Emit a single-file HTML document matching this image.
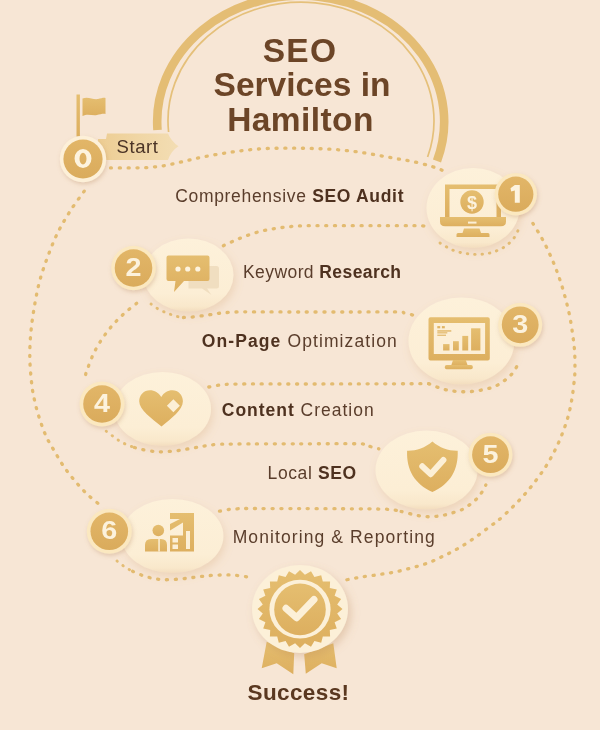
<!DOCTYPE html>
<html><head><meta charset="utf-8">
<style>
html,body{margin:0;padding:0;width:600px;height:730px;overflow:hidden;background:#F7E6D5;}
svg{display:block;}
text{font-family:"Liberation Sans",sans-serif;opacity:0.995;}
.t{font-size:17.5px;fill:#5A3D2B;}
.b{font-weight:bold;fill:#4E311F;}
.num{font-weight:bold;font-size:25px;fill:#FDF3DE;text-anchor:middle;}
.dot{fill:none;stroke:#E3BB70;stroke-width:3.3;stroke-linecap:round;stroke-dasharray:1.1 7.7;}
.halo{fill:none;stroke:#E4BD74;stroke-width:2.9;stroke-linecap:round;stroke-dasharray:0.5 6.9;}
.g{fill:url(#gg);}
.el{fill:url(#elg);}
.ring{fill:#FBE8C0;}
.bd{fill:url(#gb);}
</style></head>
<body>
<svg width="600" height="730" viewBox="0 0 600 730">
<defs>
  <filter id="sh" x="-40%" y="-40%" width="180%" height="190%">
    <feDropShadow dx="2" dy="4" stdDeviation="4.5" flood-color="#CF9A5E" flood-opacity="0.24"/>
  </filter>
  <filter id="shb" x="-40%" y="-40%" width="180%" height="190%">
    <feDropShadow dx="3" dy="4" stdDeviation="4" flood-color="#B98352" flood-opacity="0.3"/>
  </filter>
  <filter id="shs" x="-40%" y="-40%" width="180%" height="190%">
    <feDropShadow dx="1" dy="2" stdDeviation="2" flood-color="#B07E50" flood-opacity="0.3"/>
  </filter>
  <radialGradient id="bg" cx="50%" cy="45%" r="70%">
    <stop offset="0" stop-color="#F7E7D6"/>
    <stop offset="1" stop-color="#F4E1D0"/>
  </radialGradient>
<linearGradient id="tag" x1="0" y1="0" x2="1" y2="0"><stop offset="0" stop-color="#EDCD93"/><stop offset="0.5" stop-color="#F0D6A5"/><stop offset="1" stop-color="#F3DDB3"/></linearGradient>
<linearGradient id="elg" x1="0" y1="0" x2="0" y2="1"><stop offset="0" stop-color="#FDF1DA"/><stop offset="0.75" stop-color="#FCEED5"/><stop offset="0.93" stop-color="#F9E8CB"/><stop offset="1" stop-color="#F3DDBE"/></linearGradient>
<linearGradient id="gg" x1="0" y1="0" x2="0" y2="1"><stop offset="0" stop-color="#E5BE70"/><stop offset="1" stop-color="#DDAF5F"/></linearGradient>
<linearGradient id="gb" x1="0" y1="0" x2="0" y2="1"><stop offset="0" stop-color="#E2B668"/><stop offset="1" stop-color="#DAAB5C"/></linearGradient>
</defs>
<rect width="600" height="730" fill="#F7E6D5"/>

<!-- title arc -->
<path d="M157.5,130 A143.5,126 0 1 1 437,161" fill="none" stroke="#E4BD74" stroke-width="8.6"/>
<path d="M168.6,132 A133,118.5 0 1 1 427.6,157" fill="none" stroke="#E5C07A" stroke-width="1.7"/>

<!-- title text -->
<g font-weight="bold" font-size="33.5" fill="#6C4527" text-anchor="middle">
  <text x="300" y="61.5" letter-spacing="1.2">SEO</text>
  <text x="302" y="96">Services in</text>
  <text x="300.5" y="130.5" letter-spacing="0.4">Hamilton</text>
</g>

<!-- dotted paths -->
<g>
  <path class="dot" d="M110.5,167.9 C113.5,167.9 122.5,168.0 128.5,167.9 C134.5,167.8 140.7,167.9 146.5,167.6 C152.3,167.2 157.9,166.7 163.6,165.8 C169.2,164.9 174.9,163.4 180.4,162.2 C185.9,160.9 191.1,159.5 196.6,158.3 C202.1,157.1 207.8,156.0 213.4,155.0 C219.0,154.0 224.5,153.1 229.9,152.3 C235.3,151.5 240.6,150.8 246.1,150.2 C251.6,149.6 257.3,149.0 262.9,148.7 C268.5,148.4 274.0,148.3 279.6,148.2 C285.2,148.1 290.8,148.1 296.4,148.2 C301.9,148.2 307.4,148.3 312.9,148.5 C318.4,148.7 323.8,148.8 329.4,149.1 C335.0,149.4 340.9,150.0 346.5,150.6 C352.1,151.2 357.4,151.8 363.0,152.7 C368.6,153.5 374.8,154.7 380.4,155.7 C386.0,156.7 391.1,157.7 396.6,158.7 C402.1,159.7 407.5,160.4 413.4,161.7 C419.3,163.0 426.9,164.9 432.0,166.5 C437.1,168.1 442.0,170.2 444.0,171.0"/>
  <path class="dot" d="M223.4,245.7 C225.9,244.5 233.3,241.0 238.7,238.8 C244.1,236.6 250.2,234.3 256.0,232.6 C261.8,230.9 267.3,229.8 273.2,228.8 C279.1,227.8 285.4,227.0 291.3,226.5 C297.2,226.0 300.8,225.8 308.9,225.7 C317.0,225.6 328.1,225.7 340.0,225.7 C351.9,225.7 366.9,225.7 380.0,225.7 C393.1,225.7 411.6,225.6 418.9,225.7 C426.2,225.8 423.1,226.2 424.0,226.3"/>
  <path class="dot" d="M183.5,317.5 C184.8,317.4 187.2,317.6 191.2,317.2 C195.1,316.8 202.0,315.8 207.2,315.1 C212.4,314.4 217.4,313.4 222.6,312.9 C227.8,312.4 233.2,312.1 238.6,311.9 C244.0,311.7 244.6,311.9 254.8,311.9 C265.0,311.9 284.1,312.0 300.0,312.0 C315.9,312.0 333.8,312.0 350.0,312.0 C366.2,312.0 388.4,311.8 397.5,312.0 C406.6,312.2 402.1,312.6 404.3,313.0 C406.5,313.4 408.5,313.8 410.5,314.3 C412.5,314.9 415.3,316.0 416.3,316.3"/>
  <path class="dot" d="M136.7,303.3 C134.5,305.1 127.8,310.1 123.8,313.8 C119.8,317.5 116.1,321.2 112.5,325.3 C108.9,329.4 105.4,333.9 102.2,338.7 C99.0,343.5 95.8,348.9 93.3,354.2 C90.8,359.5 88.5,366.2 87.0,370.3 C85.5,374.4 84.9,377.3 84.5,378.7"/>
  <path class="dot" d="M208.8,387.0 C210.1,386.8 214.4,385.9 217.0,385.5 C219.6,385.1 220.7,384.8 224.5,384.5 C228.3,384.2 227.4,384.1 240.0,384.0 C252.6,383.9 276.7,384.0 300.0,384.0 C323.3,384.0 358.6,383.9 380.0,383.8 C401.4,383.8 420.6,383.7 428.7,383.7"/>
  <path class="dot" d="M428.7,383.7 C430.0,384.2 434.0,385.9 436.6,386.9 C439.2,387.8 441.9,388.7 444.5,389.4 C447.1,390.1 449.8,390.6 452.4,391.0 C455.0,391.4 457.7,391.6 460.3,391.7 C462.9,391.8 465.6,391.8 468.2,391.7 C470.8,391.6 473.5,391.4 476.2,391.0 C478.9,390.6 481.5,390.0 484.1,389.4 C486.7,388.8 489.6,388.3 492.0,387.5 C494.4,386.7 496.3,385.8 498.3,384.7 C500.3,383.6 502.1,382.3 504.0,380.9 C505.9,379.5 507.7,378.1 509.4,376.5 C511.1,374.9 512.7,373.3 514.2,371.1 C515.7,368.9 517.6,364.5 518.3,363.2"/>
  <path class="dot" d="M134.5,447.5 C135.8,447.8 138.2,448.8 142.0,449.5 C145.8,450.2 152.1,451.5 157.5,451.8 C162.9,452.0 169.0,451.5 174.5,451.0 C180.0,450.5 185.3,449.4 190.5,448.5 C195.7,447.6 200.6,446.5 205.5,445.8 C210.4,445.0 214.9,444.5 220.0,444.2 C225.1,444.0 222.9,444.1 236.2,444.0 C249.6,443.9 279.8,443.8 300.0,443.8 C320.2,443.8 346.8,443.6 357.5,443.8 C368.2,443.9 362.0,444.5 364.2,445.0 C366.5,445.5 368.8,446.1 371.2,446.8 C373.7,447.4 377.5,448.4 378.8,448.8"/>
  <path class="dot" d="M219.5,511.2 C221.0,511.0 225.8,509.9 228.8,509.5 C231.8,509.1 234.6,508.9 237.5,508.8 C240.4,508.6 235.8,508.5 246.2,508.5 C256.7,508.5 282.3,508.6 300.0,508.6 C317.7,508.6 340.9,508.7 352.5,508.8 C364.1,508.8 365.3,508.7 369.5,508.8 C373.7,508.8 374.7,508.9 377.5,509.0 C380.3,509.1 383.4,509.1 386.2,509.2 C389.1,509.4 392.0,509.6 394.5,510.0 C397.0,510.4 400.1,511.2 401.2,511.5"/>
  <path class="dot" d="M401.2,511.5 C402.4,511.8 405.7,512.7 408.0,513.2 C410.3,513.8 412.6,514.5 415.0,515.0 C417.4,515.5 420.0,516.0 422.5,516.2 C425.0,516.5 427.5,516.8 430.0,516.8 C432.5,516.8 435.1,516.5 437.5,516.2 C439.9,516.0 442.1,515.5 444.5,515.0 C446.9,514.5 449.4,513.8 452.0,513.0 C454.6,512.2 457.5,511.5 460.0,510.5 C462.5,509.5 464.7,508.1 466.8,506.8 C468.8,505.4 470.7,504.0 472.5,502.5 C474.3,501.0 475.9,499.8 477.5,498.0 C479.1,496.2 480.6,494.2 482.0,492.0 C483.4,489.8 485.1,486.2 485.8,485.0"/>
  <path class="dot" d="M132.6,571.3 C134.9,572.2 141.3,575.3 146.2,576.7 C151.1,578.1 156.2,579.2 161.8,579.6 C167.4,580.0 174.1,579.4 179.9,579.0 C185.8,578.6 191.3,577.6 196.9,577.0 C202.5,576.4 207.7,575.6 213.3,575.3 C218.9,575.0 224.9,574.8 230.3,575.0 C235.7,575.2 242.1,576.1 245.9,576.7 C249.7,577.3 251.8,578.1 253.0,578.4"/>
  <path class="dot" d="M84.2,191.2 C81.8,194.6 74.2,204.6 69.8,211.6 C65.4,218.6 61.2,225.6 57.6,232.9 C54.0,240.2 51.0,247.9 48.1,255.6 C45.2,263.3 42.4,271.2 40.2,279.1 C38.0,287.0 36.5,294.4 35.0,302.9 C33.5,311.4 32.0,321.0 31.1,330.0 C30.2,339.0 29.7,348.0 29.8,357.0 C29.9,366.0 30.9,376.3 31.7,383.8 C32.5,391.3 33.5,395.9 34.9,401.8 C36.2,407.8 37.9,413.7 39.8,419.5 C41.7,425.3 43.8,431.3 46.3,436.7 C48.8,442.1 52.0,447.0 55.0,452.1 C58.0,457.2 60.9,462.4 64.3,467.3 C67.7,472.2 71.4,476.8 75.3,481.3 C79.2,485.9 83.3,490.5 87.6,494.6 C91.9,498.7 98.7,503.9 100.9,505.7"/>
  <path class="dot" d="M532.9,223.4 C534.3,225.8 538.8,232.8 541.5,237.6 C544.2,242.4 546.6,247.2 548.9,252.2 C551.2,257.2 553.5,262.4 555.5,267.6 C557.5,272.8 559.3,277.9 561.1,283.4 C562.9,288.9 564.6,295.0 566.1,300.8 C567.6,306.6 569.0,312.3 570.1,318.2 C571.2,324.1 572.1,330.4 572.9,336.2 C573.7,342.0 574.4,347.3 574.7,353.1 C575.0,358.9 575.0,366.3 574.9,370.8 C574.8,375.3 574.8,375.5 574.3,380.1 C573.8,384.7 573.0,392.2 572.0,398.3 C571.0,404.4 569.7,410.9 568.0,416.9 C566.3,422.9 564.2,428.7 562.0,434.4 C559.8,440.1 557.2,445.8 554.5,451.1 C551.8,456.4 549.0,461.4 545.9,466.3 C542.8,471.2 539.5,475.7 535.9,480.5 C532.3,485.3 528.2,490.4 524.2,494.9 C520.2,499.4 516.2,503.4 511.9,507.7 C507.6,512.0 501.7,517.5 498.2,520.5 C494.7,523.5 494.8,522.9 490.9,525.7 C487.0,528.6 480.2,534.0 475.0,537.6 C469.8,541.2 464.8,544.5 459.7,547.5 C454.6,550.5 449.8,552.9 444.7,555.4 C439.6,557.9 434.5,560.5 429.2,562.5 C423.9,564.5 418.3,566.1 412.7,567.6 C407.1,569.1 401.4,570.6 395.7,571.8 C389.9,573.0 384.1,573.8 378.2,574.7 C372.3,575.6 365.7,576.3 360.3,577.2 C354.9,578.1 348.1,579.5 345.6,580.0"/>
</g>
<g>
  <path class="halo" d="M151.0,304.0 C152.0,304.7 154.9,307.1 156.9,308.3 C158.9,309.5 161.0,310.5 163.0,311.4 C165.0,312.3 166.8,313.0 169.0,313.8 C171.2,314.6 173.8,315.7 176.2,316.3 C178.6,316.9 182.3,317.3 183.5,317.5"/>
  <path class="halo" d="M106.2,431.2 C107.1,431.9 109.6,433.8 111.2,435.0 C112.9,436.2 114.6,437.6 116.2,438.8 C117.9,439.9 119.4,441.0 121.2,442.0 C123.1,443.0 125.3,444.1 127.5,445.0 C129.7,445.9 133.3,447.1 134.5,447.5"/>
  <path class="halo" d="M117.0,561.0 C117.5,561.4 118.3,562.3 119.8,563.4 C121.3,564.5 124.0,566.4 126.1,567.7 C128.2,569.0 131.5,570.7 132.6,571.3"/>
  <path class="halo" d="M440.0,243.0 C440.8,243.5 443.3,245.0 445.0,246.0 C446.7,247.0 448.1,248.1 450.0,249.0 C451.9,249.9 454.2,250.7 456.4,251.4 C458.6,252.1 460.7,252.6 463.0,253.0 C465.3,253.4 467.7,253.8 470.0,254.0 C472.3,254.2 474.7,254.4 477.0,254.4 C479.3,254.4 481.6,254.3 484.0,254.0 C486.4,253.7 489.2,253.3 491.6,252.6 C494.0,251.9 496.2,251.0 498.4,250.0 C500.6,249.0 503.0,247.9 505.0,246.6 C507.0,245.3 508.7,243.7 510.4,242.0 C512.1,240.3 513.7,238.5 515.0,236.6 C516.3,234.7 517.5,231.6 518.0,230.6"/>
</g>

<!-- flag -->
<rect x="76.5" y="94.5" width="3.4" height="42" class="g"/>
<path d="M82.5,98.5 C88,96 93,100 98,99 C101,98.5 103.5,97.5 105.5,98 L105.5,114 C103,113.5 100,114.5 97,115 C92,116 88,113 82.5,116 Z" class="g"/>

<!-- Start tag -->
<path d="M98,139 L106,139 L107,133.5 L168,133.5 Q171,141 178.5,146.3 Q171,151 168,160 L98,160 Z" fill="url(#tag)"/>
<text x="116.5" y="152.7" class="t" style="font-size:18.5px;letter-spacing:0.6px;fill:#4B3426">Start</text>

<!-- badge 0 -->
<g filter="url(#shs)"><circle cx="83" cy="159" r="23.2" fill="#FDF0D8"/></g>
<circle cx="83" cy="159" r="19.6" class="bd"/>
<path d="M83,149.1 A8.45,9.45 0 1 1 83,168 A8.45,9.45 0 1 1 83,149.1 Z M83,152.8 A3.5,5.85 0 1 0 83,164.5 A3.5,5.85 0 1 0 83,152.8 Z" fill="#FDF3DE" fill-rule="evenodd"/>

<!-- step 1 -->
<text x="175.2" y="202" class="t" style="letter-spacing:0.68px">Comprehensive <tspan class="b">SEO Audit</tspan></text>
<g filter="url(#sh)"><ellipse cx="473" cy="208" rx="46.5" ry="40" class="el"/></g>
<g class="g">
  <path d="M445,184.5 H501 V217 H496.5 V189 H449.5 V217 H445 Z"/>
  <path d="M440,217 H506 V221.5 Q506,226.3 501,226.3 H445 Q440,226.3 440,221.5 Z"/>
  <path d="M464,228.5 H479.5 L481,233 H488 Q489.5,233 489.5,234.5 V237 H456.5 V234.5 Q456.5,233 458,233 H462.5 Z"/>
  <circle cx="472" cy="202" r="11.7"/>
</g>
<rect x="468" y="221.6" width="8.5" height="2" fill="#FCEFD6"/>
<text x="472" y="208.5" font-size="18" font-weight="bold" fill="#FDF3DE" text-anchor="middle">$</text>
<g filter="url(#shs)"><circle cx="515.8" cy="194.2" r="21.2" class="ring"/></g>
<circle cx="515.8" cy="194.2" r="17.6" class="bd"/>
<path d="M514.8,185 L519.8,185 L519.8,202.8 L514.8,202.8 L514.8,190.4 L511.2,191.4 L510.5,188.3 Z" fill="#FDF3DE"/>

<!-- step 2 -->
<g filter="url(#sh)"><ellipse cx="188.5" cy="275" rx="45" ry="36.5" class="el"/></g>
<path d="M188.5,266 H216.5 Q219,266 219,268.5 V286 Q219,288.5 216.5,288.5 H207 L211.5,295 L202,288.5 H188.5 Z" fill="#F0DEC0"/>
<path d="M168.5,255.5 H207.5 Q209.5,255.5 209.5,257.5 V279 Q209.5,281 207.5,281 H184 L174,292 L175.5,281 H168.5 Q166.5,281 166.5,279 V257.5 Q166.5,255.5 168.5,255.5 Z" class="g"/>
<circle cx="178" cy="269" r="2.6" fill="#FDF3DE"/>
<circle cx="187.7" cy="269" r="2.6" fill="#FDF3DE"/>
<circle cx="197.8" cy="269" r="2.6" fill="#FDF3DE"/>
<g filter="url(#shs)"><circle cx="133.5" cy="268" r="22.3" class="ring"/></g>
<circle cx="133.5" cy="268" r="18.8" class="bd"/>
<text transform="translate(133.5,275.8) scale(1.15,1)" class="num">2</text>
<text x="243" y="277.5" class="t" style="letter-spacing:0.42px">Keyword <tspan class="b">Research</tspan></text>

<!-- step 3 -->
<text x="201.8" y="347.3" class="t" style="letter-spacing:1.1px"><tspan class="b">On-Page</tspan> Optimization</text>
<g filter="url(#sh)"><ellipse cx="461.5" cy="341" rx="53" ry="43.5" class="el"/></g>
<g class="g">
  <path d="M430.5,317.3 H487.8 Q489.8,317.3 489.8,319.3 V358.4 Q489.8,360.4 487.8,360.4 H430.5 Q428.5,360.4 428.5,358.4 V319.3 Q428.5,317.3 430.5,317.3 Z M433.8,323.1 V354 H485.1 V323.1 Z" fill-rule="evenodd"/>
  <path d="M453,360 H465.8 L467.6,365.3 H451.3 Z"/>
  <rect x="444.8" y="365" width="28" height="4.3" rx="1.8"/>
  <rect x="443.1" y="344.1" width="6.4" height="6.4"/>
  <rect x="453" y="341.2" width="5.8" height="9.3"/>
  <rect x="462.3" y="335.9" width="5.9" height="14.6"/>
  <path d="M471.1,328.3 H480.4 V350.5 H471.1 Z"/>
  <rect x="437.3" y="326" width="2.9" height="2.3"/>
  <rect x="441.9" y="326" width="2.9" height="2.3"/>
  <rect x="437.3" y="330.2" width="14" height="1.4"/>
  <rect x="437.3" y="332.2" width="10" height="1.2"/>
  <rect x="437.3" y="334.6" width="8.7" height="1.2"/>
</g>
<g filter="url(#shs)"><circle cx="520.2" cy="324.8" r="22" class="ring"/></g>
<circle cx="520.2" cy="324.8" r="18.4" class="bd"/>
<text transform="translate(520.2,332.6) scale(1.15,1)" class="num">3</text>

<!-- step 4 -->
<g filter="url(#sh)"><ellipse cx="162.5" cy="409" rx="48.5" ry="37" class="el"/></g>
<path d="M161.3,397 C158.6,392.5 154.5,390.2 150,390.2 C143.8,390.2 139.2,395 139.2,401.2 C139.2,410 152,418.5 161.5,426.5 C171,418.5 182.9,410 182.9,401.2 C182.9,395 178.3,390.2 172.3,390.2 C167.8,390.2 163.8,392.5 161.3,397 Z" class="g"/>
<path d="M173.4,399.2 L179.9,405.7 L173.4,412.2 L166.9,405.7 Z" fill="#FCEFD6"/>
<g filter="url(#shs)"><circle cx="102" cy="404" r="22.5" class="ring"/></g>
<circle cx="102" cy="404" r="18.8" class="bd"/>
<text transform="translate(102.0,411.8) scale(1.15,1)" class="num">4</text>
<text x="221.8" y="415.5" class="t" style="letter-spacing:0.98px"><tspan class="b">Content</tspan> Creation</text>

<!-- step 5 -->
<text x="267.6" y="478.5" class="t" style="letter-spacing:0.6px">Local <tspan class="b">SEO</tspan></text>
<g filter="url(#sh)"><ellipse cx="426.5" cy="470" rx="51" ry="39.5" class="el"/></g>
<path d="M432.4,441.5 C440,448 449,451 457.7,450.7 C458.5,470 450,484 432.4,492 C414.8,484 406.3,470 407.1,450.7 C415.8,451 424.8,448 432.4,441.5 Z" class="g"/>
<path d="M422.3,466.3 L430.6,474.2 L443.4,459.9" fill="none" stroke="#FCEFD6" stroke-width="6" stroke-linecap="round" stroke-linejoin="round"/>
<g filter="url(#shs)"><circle cx="490.5" cy="454.7" r="22" class="ring"/></g>
<circle cx="490.5" cy="454.7" r="18.4" class="bd"/>
<text transform="translate(490.5,462.5) scale(1.15,1)" class="num">5</text>

<!-- step 6 -->
<g filter="url(#sh)"><ellipse cx="172.4" cy="536" rx="51" ry="37" class="el"/></g>
<g class="g">
  <circle cx="158.3" cy="530.5" r="5.8"/>
  <path d="M145,551.5 V545 Q145,539 151,539 H161 Q167,539 167,545 V551.5 Z"/>
  <path d="M170,513 H194 V551.5 H170 V535.5 H183 V522.5 L170,530.5 V524 L180,519 H170 Z"/>
</g>
<g fill="#FCEFD6">
  <rect x="158.3" y="539" width="1.5" height="12.5"/>
  <rect x="172.5" y="538" width="5.5" height="4.5"/>
  <rect x="172.5" y="544.5" width="5.5" height="4.5"/>
  <rect x="186" y="531" width="4" height="18"/>
</g>
<g filter="url(#shs)"><circle cx="109.3" cy="531.3" r="22.5" class="ring"/></g>
<circle cx="109.3" cy="531.3" r="18.8" class="bd"/>
<text transform="translate(109.3,539.1) scale(1.15,1)" class="num">6</text>
<text x="232.7" y="542.7" class="t" style="letter-spacing:1.1px">Monitoring &amp; Reporting</text>

<!-- success -->
<path d="M266.7,641.7 L294.2,653.3 L293.3,674.2 L276.7,663.3 L261.7,668.3 Z" class="g"/>
<path d="M304.2,654.2 L333.3,643.3 L336.7,668.3 L321.7,663.3 L305.8,673.7 Z" class="g"/>
<g filter="url(#shb)"><ellipse cx="300" cy="609" rx="48" ry="44" fill="#FCF0D8"/></g>
<path class="g" d="M300.0,570.0 L304.9,574.8 L311.0,571.3 L314.4,577.1 L321.2,575.2 L322.8,581.6 L330.1,581.4 L329.8,588.0 L336.8,589.5 L334.6,595.8 L341.1,598.9 L337.2,604.5 L342.5,609.0 L337.2,613.5 L341.1,619.1 L334.6,622.2 L336.8,628.5 L329.8,630.0 L330.1,636.6 L322.8,636.4 L321.2,642.8 L314.4,640.9 L311.0,646.7 L304.9,643.2 L300.0,648.0 L295.1,643.2 L289.0,646.7 L285.6,640.9 L278.8,642.8 L277.2,636.4 L269.9,636.6 L270.2,630.0 L263.2,628.5 L265.4,622.2 L258.9,619.1 L262.8,613.5 L257.5,609.0 L262.8,604.5 L258.9,598.9 L265.4,595.8 L263.2,589.5 L270.2,588.0 L269.9,581.4 L277.2,581.6 L278.8,575.2 L285.6,577.1 L289.0,571.3 L295.1,574.8 Z"/>
<ellipse cx="300" cy="609.2" rx="30.6" ry="29.4" fill="#FCF0D8"/>
<circle cx="300" cy="609.4" r="25.8" class="g"/>
<path d="M286,608.3 L296.5,617.7 L314,599.5" fill="none" stroke="#FCF0D8" stroke-width="7" stroke-linecap="round" stroke-linejoin="round"/>
<text x="298.5" y="700.3" font-weight="bold" font-size="22.5" letter-spacing="0.4" fill="#5A3820" text-anchor="middle">Success!</text>
</svg>
</body></html>
